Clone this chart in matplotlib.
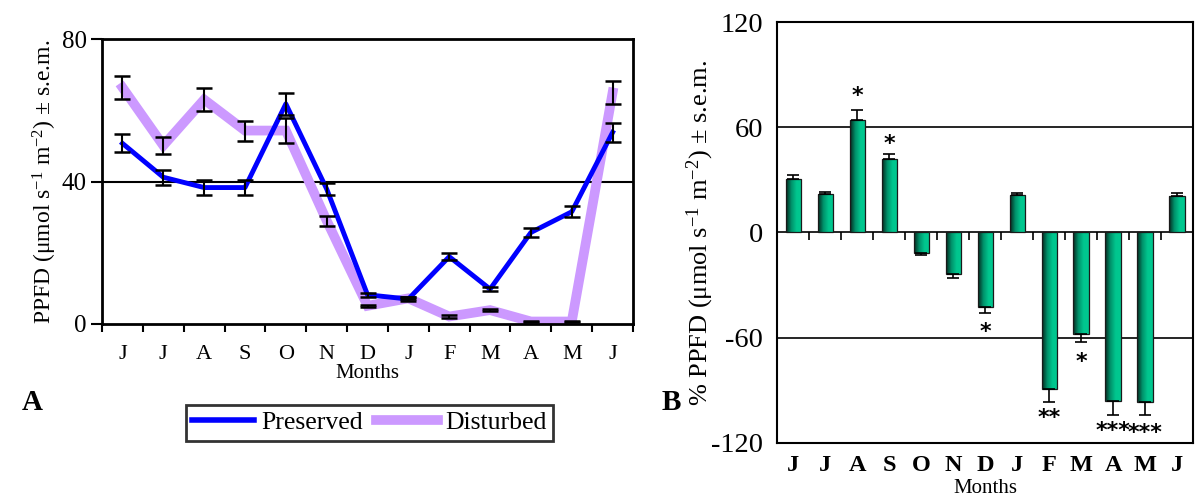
import numpy as np
import matplotlib.pyplot as plt
from matplotlib.lines import Line2D
from matplotlib.colors import LinearSegmentedColormap

plt.rcParams['font.family'] = ['Liberation Serif', 'DejaVu Serif']
plt.rcParams['mathtext.fontset'] = 'custom'
plt.rcParams['mathtext.rm'] = 'Liberation Serif'
plt.rcParams['mathtext.it'] = 'Liberation Serif:italic'

# Data
months = ['J', 'J', 'A', 'S', 'O', 'N', 'D', 'J', 'F', 'M', 'A', 'M', 'J']

preserved = [50.7, 41.2, 38.3, 38.3, 61.8, 37.9, 8.2, 7.0, 18.9, 9.8, 25.7, 31.5, 53.8]
preserved_err = [2.5, 2.1, 2.0, 2.0, 3.1, 1.8, 0.6, 0.5, 0.9, 0.5, 1.3, 1.5, 2.7]
disturbed = [66.4, 50.1, 63.0, 54.3, 54.3, 29.0, 5.1, 7.2, 2.1, 3.9, 0.7, 0.7, 65.0]
disturbed_err = [3.3, 2.5, 3.2, 2.8, 3.4, 1.4, 0.3, 0.3, 0.3, 0.3, 0.2, 0.2, 3.3]

pct_ppfd = [30.7, 22.2, 64.3, 41.9, -11.6, -23.9, -42.3, 21.2, -89.3, -58.0, -95.9, -96.9, 20.7]
pct_err = [1.9, 1.0, 5.3, 3.0, 1.5, 1.9, 3.4, 1.3, 7.6, 4.7, 8.3, 7.4, 1.9]
signif = ['', '', '*', '*', '', '', '*', '', '**', '*', '***', '***', '']
signif_y = [0, 0, 78, 50.6, 0, 0, -57, 0, -106, -74, -113, -114.5, 0]

fig = plt.figure(figsize=(11.96, 4.97), dpi=100)

# ---------------- Panel A ----------------
axA = fig.add_axes([0.0853, 0.3481, 0.4440, 0.5734])
x = np.arange(len(months))
axA.axhline(40, color='black', lw=1.5, zorder=1)
axA.plot(x, disturbed, color='#cc99ff', lw=7, solid_joinstyle='miter', zorder=2)
axA.plot(x, preserved, color='#0000ff', lw=3.5, zorder=3)
axA.errorbar(x, disturbed, yerr=disturbed_err, fmt='none', ecolor='black',
             elinewidth=1.5, capsize=6, capthick=1.8, zorder=4)
axA.errorbar(x, preserved, yerr=preserved_err, fmt='none', ecolor='black',
             elinewidth=1.5, capsize=6, capthick=1.8, zorder=4)
axA.set_xlim(-0.5, 12.5)
axA.set_ylim(0, 80)
axA.set_yticks([0, 40, 80])
axA.tick_params(axis='y', labelsize=18, length=8, width=1.5, direction='out', pad=3)
axA.set_xticks(x)
axA.set_xticklabels(months, fontsize=16)
axA.set_xticks(np.arange(-0.5, 13, 1), minor=True)
axA.tick_params(axis='x', which='major', length=0, pad=15)
axA.tick_params(axis='x', which='minor', length=6, width=1.5, direction='out')
for s in axA.spines.values():
    s.set_linewidth(2)
axA.set_xlabel('Months', fontsize=15, labelpad=0)
axA.set_ylabel(r'PPFD (μmol s$^{-1}$ m$^{-2}$) ± s.e.m.', fontsize=17, labelpad=2)

handles = [Line2D([], [], color='#0000ff', lw=4),
           Line2D([], [], color='#cc99ff', lw=7)]
leg = fig.legend(handles, ['Preserved', 'Disturbed'], loc='center',
                 bbox_to_anchor=(0.309, 0.149), ncol=2, fontsize=18.5,
                 frameon=True, fancybox=False, edgecolor='black',
                 handlelength=2.4, handletextpad=0.3, columnspacing=0.5,
                 borderpad=0.25)
leg.get_frame().set_linewidth(2)

fig.text(0.018, 0.175, 'A', fontsize=21, fontweight='bold')

# ---------------- Panel B ----------------
axB = fig.add_axes([0.6497, 0.1087, 0.3478, 0.847])
axB.axhline(60, color='black', lw=1.2, zorder=1)
axB.axhline(-60, color='black', lw=1.2, zorder=1)
axB.axhline(0, color='black', lw=1.2, zorder=1)
bars = axB.bar(x, pct_ppfd, width=0.47, color='none', edgecolor='#1a1a1a',
               lw=0.9, zorder=3)
grad = np.linspace(0, 1, 64).reshape(1, -1)
cmap = LinearSegmentedColormap.from_list('g', ['#06281e', '#00916a', '#00c68e', '#00c890'])
for b in bars:
    x0, y0 = b.get_x(), b.get_y()
    w, h = b.get_width(), b.get_height()
    im = axB.imshow(grad, cmap=cmap, aspect='auto', zorder=2,
                    extent=[x0, x0 + w, min(y0, y0 + h), max(y0, y0 + h)])
    im.set_clip_path(b)
# one sided error bars
lower = [0 if v > 0 else e for v, e in zip(pct_ppfd, pct_err)]
upper = [e if v > 0 else 0 for v, e in zip(pct_ppfd, pct_err)]
axB.errorbar(x, pct_ppfd, yerr=[lower, upper], fmt='none', ecolor='black',
             elinewidth=1.2, capsize=4, capthick=1.2, zorder=4)
# boundary ticks on the zero line
axB.vlines(np.arange(0.5, 12, 1), -4.5, 0, color='black', lw=1.2, zorder=1)
for xi, s, yv in zip(x, signif, signif_y):
    if s:
        axB.text(xi, yv, s, ha='center', va='center', fontsize=16,
                 fontweight='bold', family='DejaVu Sans')
axB.set_xlim(-0.5, 12.5)
axB.set_ylim(-120, 120)
axB.set_yticks([-120, -60, 0, 60, 120])
axB.set_yticklabels(['-120', '-60', '0', '60', '120'])
axB.tick_params(axis='y', labelsize=20.5, length=0, pad=10)
axB.set_xticks(x)
axB.set_xticklabels(months, fontsize=17.5, fontweight='bold')
axB.tick_params(axis='x', length=0, pad=9)
for s in axB.spines.values():
    s.set_linewidth(1.5)
axB.set_xlabel('Months', fontsize=15, labelpad=2)
axB.set_ylabel(r'% PPFD (μmol s$^{-1}$ m$^{-2}$) ± s.e.m.', fontsize=19, labelpad=-3.5)

fig.text(0.553, 0.175, 'B', fontsize=21, fontweight='bold')

fig.savefig('out.png', dpi=100)
